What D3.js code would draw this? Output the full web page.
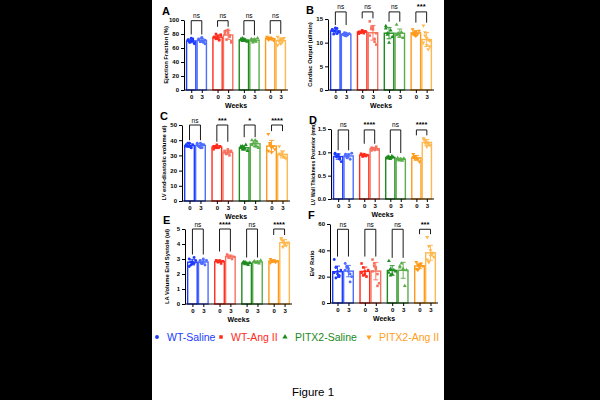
<!DOCTYPE html>
<html>
<head>
<meta charset="utf-8">
<script src="https://cdn.jsdelivr.net/npm/d3@7"></script>
<style>
  body { margin: 0; background: #000; }
  svg { display: block; font-family: "Liberation Sans", Arial, sans-serif; }
</style>
</head>
<body>
<svg width="600" height="400"></svg>
<script>
let groups = ["WT-Saline", "WT-Ang II", "PITX2-Saline", "PITX2-Ang II"];
let weeks = ["0", "3"];

// one list per bar: WT-Saline 0, 3, WT-Ang II 0, 3, PITX2-Saline 0, 3, PITX2-Ang II 0, 3
let ejection = [
    [72, 68, 70, 73, 66, 71, 69, 74, 70, 67],
    [72, 70, 74, 68, 71, 73, 69, 75, 70, 66],
    [76, 80, 74, 72, 78, 75, 73, 77, 71, 79],
    [84, 85, 82, 76, 68, 80, 72, 86, 78, 70, 83],
    [72, 70, 73, 71, 69, 72, 74, 70],
    [73, 70, 72, 69, 74, 71, 68, 72],
    [74, 72, 75, 73, 71, 76, 72, 74],
    [76, 70, 66, 72, 74, 64, 71, 73, 69]
];
let cardiac = [
    [12.8, 12.4, 13.1, 11.9, 12.2, 12.6, 11.8, 12.5, 13.0, 12.3],
    [11.8, 11.5, 12.0, 11.6, 11.9, 11.7, 12.1, 11.4, 11.8],
    [12.3, 12.1, 12.6, 12.0, 12.4, 11.9, 12.2, 12.5, 12.3],
    [14.5, 13.2, 12.8, 10.2, 9.6, 11.5, 12.9, 13.4, 10.8, 12.0],
    [13.5, 12.0, 10.0, 12.6, 11.2, 13.0, 11.7],
    [13.8, 11.8, 11.5, 12.2, 11.0, 11.6, 12.0],
    [12.8, 11.6, 12.3, 11.8, 12.5, 11.9, 12.2, 11.4],
    [13.6, 12.2, 11.0, 8.6, 9.2, 10.0, 11.5, 9.5, 10.6, 10.4]
];
let lvedv = [
    [37, 36, 38, 35, 37, 36, 38, 36, 35],
    [37, 36, 38, 35, 37, 38, 36, 35, 37],
    [36, 35, 37, 35, 36, 34, 36, 35],
    [33, 31, 32, 30, 33, 32, 31, 34, 32],
    [36, 34, 35, 37, 33, 35, 36, 34],
    [40, 38, 36, 39, 35, 37, 38, 40, 36],
    [44, 38, 35, 36, 34, 33, 37, 32],
    [36, 31, 30, 29, 28, 31, 30, 32, 29]
];
let wall = [
    [0.98, 0.92, 0.95, 0.85, 0.80, 0.96, 0.90, 0.94, 0.88],
    [0.96, 0.90, 0.94, 0.85, 0.98, 0.92, 0.88, 0.95],
    [0.95, 0.93, 0.96, 0.92, 0.94, 0.97, 0.91, 0.93],
    [1.10, 1.08, 1.05, 1.12, 1.06, 1.04, 1.09, 1.07],
    [0.90, 0.88, 0.86, 0.92, 0.89, 0.87, 0.91],
    [0.88, 0.84, 0.86, 0.82, 0.87, 0.85, 0.83],
    [0.96, 0.92, 0.88, 0.85, 0.80, 0.90, 0.86],
    [1.30, 1.25, 1.22, 1.18, 1.15, 1.28, 1.20, 1.12]
];
let laVolume = [
    [3.0, 2.6, 2.8, 2.7, 2.9, 2.5, 2.8, 2.7, 3.1],
    [2.9, 2.7, 2.8, 2.6, 2.9, 2.8, 2.7, 3.0],
    [2.9, 2.8, 2.9, 2.7, 2.85, 2.9, 2.8],
    [3.3, 3.1, 3.2, 3.0, 3.15, 3.25, 3.1],
    [2.8, 2.65, 2.7, 2.6, 2.75, 2.7, 2.8],
    [2.85, 2.75, 2.8, 2.7, 2.9, 2.8],
    [3.0, 2.85, 2.9, 2.8, 2.85, 2.75, 2.9],
    [4.4, 4.2, 4.0, 3.9, 4.1, 4.3, 3.8, 4.0]
];
let eRatio = [
    [33, 27, 22, 20, 25, 23, 19, 24, 21],
    [30, 28, 26, 16, 20, 25, 27, 24, 22],
    [30, 27, 22, 20, 25, 23, 21, 24],
    [33, 30, 27, 13, 15, 24, 28, 26, 22],
    [32, 26, 22, 25, 24, 23, 21],
    [28, 30, 26, 13, 25, 27],
    [31, 29, 27, 30, 28, 26, 25, 29],
    [50, 43, 40, 37, 35, 33, 31, 36, 38]
];

let sigA = ["ns", "ns", "ns", "ns"];
let sigB = ["ns", "ns", "ns", "***"];
let sigC = ["ns", "***", "*", "****"];
let sigD = ["ns", "****", "ns", "****"];
let sigE = ["ns", "****", "ns", "****"];
let sigF = ["ns", "ns", "ns", "***"];

let colors = [["#1f3bff", "#4f6dff"], ["#ff2b1c", "#f7725f"], ["#1e8c1e", "#5aad4a"], ["#ff9a1a", "#ffb84d"]];
let legendColors = ["#1a3cff", "#ff2a1a", "#1a8a1a", "#ffa020"];
let symbols = [d3.symbolCircle, d3.symbolSquare, d3.symbolTriangle, d3.symbolTriangle];

let panels = [
    {id: "A", title: "Ejection Fraction (%)", data: ejection, sig: sigA, max: 100, nt: 5, fmt: "d", brk: 99, left: 184, right: 288, top: 20, bottom: 90, tf: 5.8},
    {id: "B", title: "Cardiac Output (ul/min)", data: cardiac, sig: sigB, max: 15, nt: 3, fmt: "d", brk: 16.5, left: 328, right: 434, top: 19, bottom: 90, tf: 5.8},
    {id: "C", title: "LV end-diastolic volume ul)", data: lvedv, sig: sigC, max: 50, nt: 5, fmt: "d", brk: 50, left: 182, right: 290, top: 125, bottom: 201, tf: 5.8},
    {id: "D", title: "LV Wall Thickness Posterior (mm)", data: wall, sig: sigD, max: 1.5, nt: 3, fmt: ".1f", brk: 1.48, left: 331, right: 434, top: 129, bottom: 199, tf: 5.1},
    {id: "E", title: "LA Volume End Systole (ul)", data: laVolume, sig: sigE, max: 5, nt: 5, fmt: "d", brk: 5, left: 185, right: 292, top: 229, bottom: 304, tf: 5.8},
    {id: "F", title: "E/e' Ratio", data: eRatio, sig: sigF, max: 60, nt: 3, fmt: "d", brk: 56, left: 330, right: 438, top: 224, bottom: 303, tf: 5.8}
];

let svg = d3.select("svg");
svg.append("rect").attr("x", 152).attr("y", 0).attr("width", 292).attr("height", 400).attr("fill", "#fff");

function drawPanel(p) {
    const g = svg.append("g");
    const y = d3.scaleLinear([0, p.max], [p.bottom, p.top]);
    const x = d3.scaleBand(groups, [p.left, p.right]).paddingInner(0.15).paddingOuter(0.05);
    const xs = d3.scaleBand(weeks, [0, x.bandwidth()]).padding(0.12);
    const cx = (gi, wi) => x(groups[gi]) + xs(weeks[wi]) + xs.bandwidth() / 2;

    const bars = p.data.map((vals, i) => {
        const gi = Math.floor(i / 2), wi = i % 2;
        return {gi, wi, vals, mean: d3.mean(vals), sd: d3.deviation(vals), cx: cx(gi, wi), color: colors[gi][wi]};
    });

    // bars
    g.selectAll("rect.bar")
        .data(bars)
        .join("rect")
        .attr("x", d => d.cx - xs.bandwidth() / 2)
        .attr("width", xs.bandwidth())
        .attr("y", d => y(d.mean))
        .attr("height", d => p.bottom - y(d.mean))
        .attr("fill", "#fff")
        .attr("stroke", d => d.color)
        .attr("stroke-width", 1.4);

    // points
    const bw = xs.bandwidth();
    bars.forEach(b => {
        g.append("g").selectAll("path")
            .data(b.vals)
            .join("path")
            .attr("d", d3.symbol(symbols[b.gi], 6.5))
            .attr("transform", (v, k) => `translate(${b.cx + ((k % 5) - 2) * bw * 0.17},${y(v)})${b.gi === 3 ? " rotate(180)" : ""}`)
            .attr("fill", b.color);

        // error bar
        const eb = g.append("g").attr("stroke", b.color).attr("stroke-width", 0.9);
        eb.append("line").attr("x1", b.cx).attr("x2", b.cx).attr("y1", y(b.mean - b.sd)).attr("y2", y(b.mean + b.sd));
        [b.mean - b.sd, b.mean + b.sd].forEach(v => {
            eb.append("line").attr("x1", b.cx - 2.5).attr("x2", b.cx + 2.5).attr("y1", y(v)).attr("y2", y(v));
        });
    });

    // y axis
    g.append("g")
        .attr("transform", `translate(${p.left},0)`)
        .call(d3.axisLeft(y).ticks(p.nt).tickFormat(d3.format(p.fmt)).tickSize(3).tickSizeOuter(0).tickPadding(2))
        .call(a => a.selectAll("text").attr("font-size", 6).attr("font-weight", "bold"))
        .call(a => a.selectAll("line, path").attr("stroke-width", 1));

    // x axis
    const keys = bars.map((b, i) => i);
    const xo = d3.scaleOrdinal(keys, bars.map(b => b.cx));
    g.append("g")
        .attr("transform", `translate(0,${p.bottom})`)
        .call(d3.axisBottom(xo).tickSize(3).tickPadding(2).tickFormat(i => weeks[i % 2]))
        .call(a => a.select(".domain").remove())
        .call(a => a.selectAll("text").attr("font-size", 6).attr("font-weight", "bold"));
    g.append("line")
        .attr("x1", p.left).attr("x2", p.right)
        .attr("y1", p.bottom).attr("y2", p.bottom)
        .attr("stroke", "#000").attr("stroke-width", 1);

    g.append("text")
        .attr("x", (p.left + p.right) / 2)
        .attr("y", p.bottom + 18)
        .attr("text-anchor", "middle")
        .attr("font-size", 7)
        .attr("font-weight", "bold")
        .text("Weeks");

    g.append("text")
        .attr("transform", `translate(${p.left - 16},${(p.top + p.bottom) / 2}) rotate(-90)`)
        .attr("text-anchor", "middle")
        .attr("font-size", p.tf)
        .attr("font-weight", "bold")
        .text(p.title);

    g.append("text")
        .attr("x", p.left - 22)
        .attr("y", p.top - 5)
        .attr("font-size", 11)
        .attr("font-weight", "bold")
        .text(p.id);

    // significance brackets
    p.sig.forEach((s, gi) => {
        const c0 = cx(gi, 0), c3 = cx(gi, 1);
        const top = d3.max(bars.filter(b => b.gi === gi), b => Math.max(d3.max(b.vals), b.mean + b.sd));
        const by = y(p.brk);
        const leg = Math.max(by + 4, y(top) - 3);
        g.append("path")
            .attr("d", `M${c0},${leg}V${by}H${c3}V${leg}`)
            .attr("fill", "none")
            .attr("stroke", "#000")
            .attr("stroke-width", 0.9);
        g.append("text")
            .attr("x", (c0 + c3) / 2)
            .attr("y", by - 2.5)
            .attr("text-anchor", "middle")
            .attr("font-size", s === "ns" ? 6.5 : 7.5)
            .attr("font-weight", s === "ns" ? "normal" : "bold")
            .text(s);
    });
}

panels.forEach(drawPanel);

// legend
let legendX = [157, 221, 285, 369];
let lg = svg.append("g");
groups.forEach((name, i) => {
    lg.append("path")
        .attr("d", d3.symbol(symbols[i], 12))
        .attr("transform", `translate(${legendX[i]},337)${i === 3 ? " rotate(180)" : ""}`)
        .attr("fill", legendColors[i]);
    lg.append("text")
        .attr("x", legendX[i] + 10)
        .attr("y", 341)
        .attr("font-size", 10.5)
        .attr("fill", legendColors[i])
        .text(name);
});

svg.append("text")
    .attr("x", 313)
    .attr("y", 396)
    .attr("text-anchor", "middle")
    .attr("font-size", 11.5)
    .text("Figure 1");
</script>
</body>
</html>
